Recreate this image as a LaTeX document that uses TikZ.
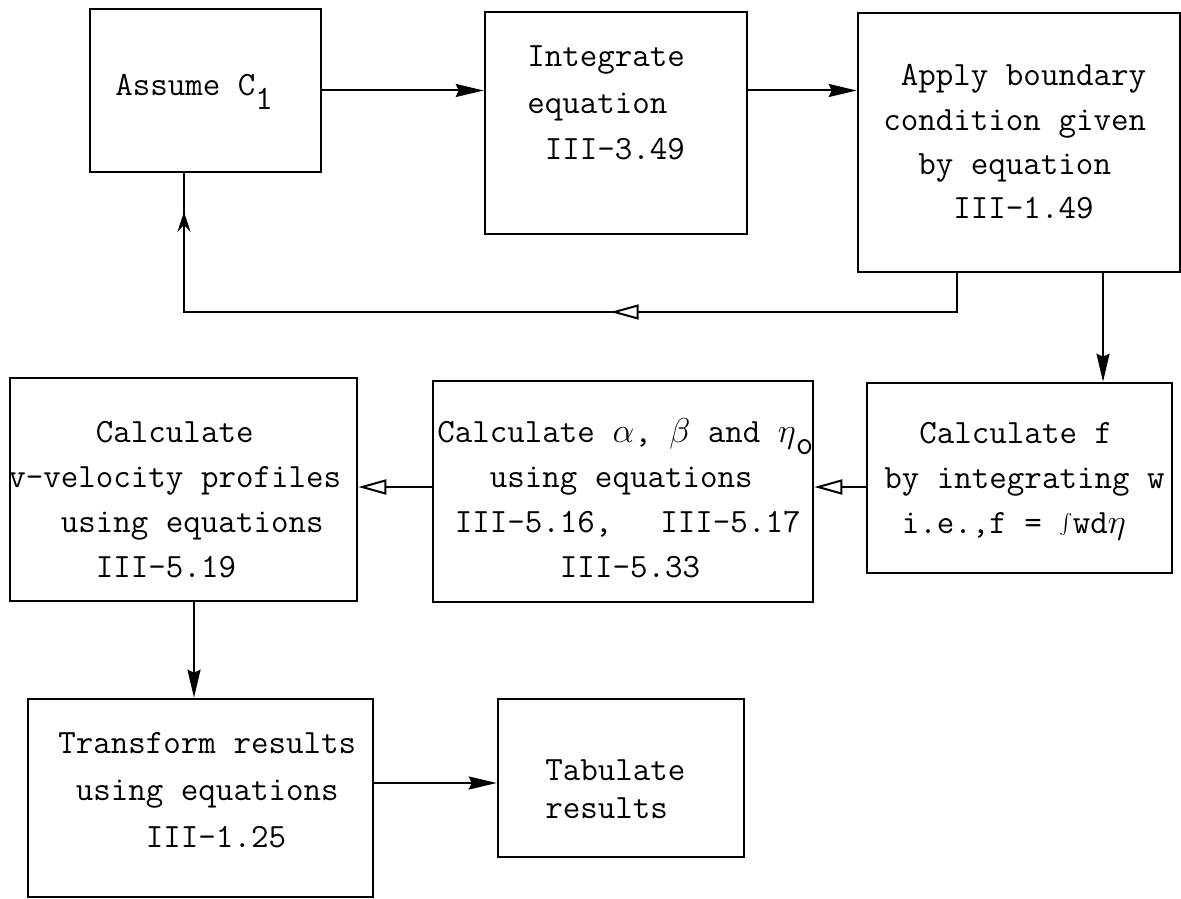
\documentclass[tikz,border=0pt]{standalone}
\usetikzlibrary{arrows.meta,decorations.markings}
\tikzset{
  box/.style={draw=black, line width=1.3pt, inner sep=0pt},
  txt/.style={anchor=base west, inner sep=0pt, font=\ttfamily\fontsize{17}{#1}\selectfont},
  txt/.default=22.5pt,
  flow/.style={line width=1pt, -{Stealth[length=14pt,width=6.5pt,inset=1.5pt]}},
  back/.style={line width=1pt, -{Triangle[open,fill=white,length=14pt,width=7.5pt]}},
}
\newcommand{\lines}[1]{\begin{tabular}[t]{@{}l@{}}#1\end{tabular}}
\begin{document}
\begin{tikzpicture}[x=0.5pt,y=-0.5pt]
\useasboundingbox (0,0) rectangle (1181,898);
% boxes
\node [box, minimum width=115.5pt, minimum height=81.5pt] (assume) at (205.5,90.5) {};
\node [box, minimum width=131pt, minimum height=111pt] (integ) at (616,123) {};
\node [box, minimum width=161pt, minimum height=129.5pt] (apply) at (1019,142.5) {};
\node [box, minimum width=173.5pt, minimum height=111.5pt] (vprof) at (183.5,489.5) {};
\node [box, minimum width=190pt, minimum height=110.5pt] (alpha) at (623,491.5) {};
\node [box, minimum width=152.5pt, minimum height=95pt] (calcf) at (1019.5,478) {};
\node [box, minimum width=172.5pt, minimum height=99pt] (trans) at (200.5,798) {};
\node [box, minimum width=123pt, minimum height=79pt] (tab) at (621,778) {};
% texts
\node [txt] (assume-t) at (115,96) {Assume C\raisebox{-7pt}{1}};
\node [txt=23.25pt] (integ-t) at (527,67) {\lines{Integrate\\equation\\~III-3.49}};
\node [txt=22.15pt] (apply-t) at (883,86) {\lines{~Apply boundary\\condition given\\~~by equation\\~~~~III-1.49}};
\node [txt=22.65pt] (vprof-t) at (8,442) {\lines{~~~~~Calculate\\v-velocity profiles\\~~~using equations\\~~~~~III-5.19}};
\node [txt=22.65pt] (alpha-t) at (437,442) {\lines{Calculate $\alpha$, $\beta$ and $\eta$\raisebox{-6pt}[0pt][0pt]{o}\\~~~using equations\\~III-5.16,\hspace{24pt}III-5.17\\~~~~~~~III-5.33}};
\node [txt] (calcf-t) at (884,443) {\lines{~~Calculate f\\by integrating w\\~i.e.,f = $\int$wd$\eta$}};
\node [txt=23.5pt] (trans-t) at (58,753) {\lines{Transform results\\~using equations\\~~~~~III-1.25}};
\node [txt=19pt] (tab-t) at (545,780) {\lines{Tabulate\\results}};
% connectors
\draw [flow] (assume.east) -- (assume.east -| integ.west);
\draw [flow] (integ.east |- assume.east) -- (apply.west |- assume.east);
\draw [flow] ([xshift=42pt]apply.south) -- ([xshift=42pt]apply.south |- calcf.north);
\draw [back] ([yshift=-4.5pt]calcf.west) -- ([yshift=-4.5pt]calcf.west -| alpha.east);
\draw [back] ([yshift=2.25pt]alpha.west) -- ([yshift=2.25pt]alpha.west -| vprof.east);
\draw [flow] ([xshift=5.25pt]vprof.south) -- ([xshift=5.25pt]vprof.south |- trans.north);
\draw [flow] ([yshift=-2.5pt]tab.west -| trans.east) -- ([yshift=-2.5pt]tab.west);
% feedback loop
\coordinate (fbR) at (957,312);
\coordinate (fbL) at (184,312);
\draw [line width=1pt, postaction={decorate}, decoration={markings,
  mark=at position 192.5pt with {\arrow{Triangle[open,fill=white,length=14pt,width=7.5pt]}},
  mark=at position 456pt with {\arrow{Stealth[length=10pt,width=6.5pt]}}}]
  (apply.south -| fbR) -- (fbR) -- (fbL) -- (fbL |- assume.south);
\end{tikzpicture}
\end{document}
